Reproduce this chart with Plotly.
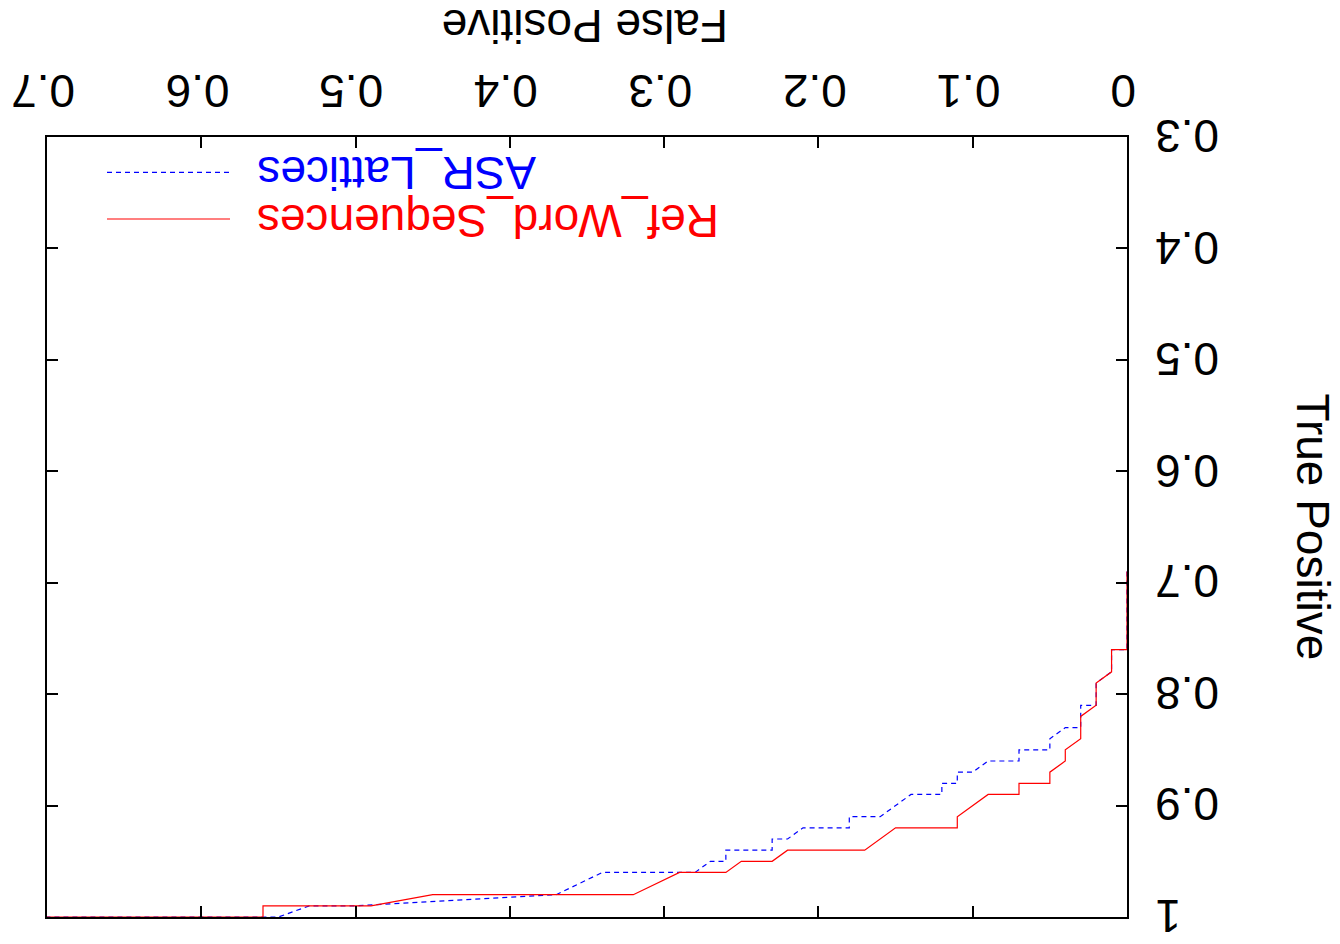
import plotly.graph_objects as go

# ---- data ----
fp_ref = [0, 0, 0.01, 0.01, 0.02, 0.02, 0.03, 0.03, 0.04, 0.04, 0.05, 0.05, 0.07, 0.07,
          0.09, 0.11, 0.11, 0.15, 0.17, 0.22, 0.23, 0.25, 0.26, 0.29, 0.32, 0.45, 0.49,
          0.56, 0.56, 0.70]
tp_ref = [0.69, 0.76, 0.76, 0.78, 0.79, 0.81, 0.82, 0.84, 0.85, 0.86, 0.87, 0.88, 0.88, 0.89,
          0.89, 0.91, 0.92, 0.92, 0.94, 0.94, 0.95, 0.95, 0.96, 0.96, 0.98, 0.98, 0.99,
          0.99, 1.0, 1.0]

fp_asr = [0, 0, 0.01, 0.01, 0.02, 0.02, 0.03, 0.03, 0.04, 0.05, 0.05, 0.07, 0.07, 0.09,
          0.10, 0.11, 0.11, 0.12, 0.12, 0.14, 0.16, 0.18, 0.18, 0.21, 0.22, 0.23, 0.23,
          0.26, 0.26, 0.27, 0.28, 0.34, 0.37, 0.50, 0.53, 0.55, 0.70]
tp_asr = [0.69, 0.76, 0.76, 0.78, 0.79, 0.81, 0.81, 0.83, 0.83, 0.84, 0.85, 0.85, 0.86, 0.86,
          0.87, 0.87, 0.88, 0.88, 0.89, 0.89, 0.91, 0.91, 0.92, 0.92, 0.93, 0.93, 0.94,
          0.94, 0.95, 0.95, 0.96, 0.96, 0.98, 0.99, 0.99, 1.0, 1.0]

x_ticks = [0, 0.1, 0.2, 0.3, 0.4, 0.5, 0.6, 0.7]
x_labels = ["0", "0.1", "0.2", "0.3", "0.4", "0.5", "0.6", "0.7"]
y_ticks = [0.3, 0.4, 0.5, 0.6, 0.7, 0.8, 0.9, 1.0]
y_labels = ["0.3", "0.4", "0.5", "0.6", "0.7", "0.8", "0.9", "1"]

series_names = ["ASR_Lattices", "Ref_Word_Sequences"]
x_title = "False Positive"
y_title = "True Positive"

# ---- layout geometry (page pixels; body margin removed via post_script) ----
W, H = 1340, 944
L = 47
T = 137
PW, PH = 1080, 780
R = W - L - PW
B = H - T - PH

def px(xpage):
    return (xpage - L) / PW

def py(ypage):
    return 1 - (ypage - T) / PH

FONT = "Liberation Sans, Arial, sans-serif"
FS = 46
BLUE = "#0000ff"
RED = "#ff0000"

fig = go.Figure()
fig.add_trace(go.Scatter(x=fp_asr, y=tp_asr, mode="lines", name=series_names[0],
                         line=dict(color=BLUE, width=1.2, dash="5px,4px")))
fig.add_trace(go.Scatter(x=fp_ref, y=tp_ref, mode="lines", name=series_names[1],
                         line=dict(color=RED, width=1.2)))

annotations = []
for v, lab in zip(x_ticks, x_labels):
    annotations.append(dict(x=v, xref="x", y=py(91), yref="paper", text=lab,
                            showarrow=False, textangle=180, xanchor="center",
                            yanchor="middle", xshift=-4,
                            font=dict(family=FONT, size=FS, color="black")))
for v, lab in zip(y_ticks, y_labels):
    annotations.append(dict(y=v, yref="y", x=px(1153), xref="paper", text=lab,
                            showarrow=False, textangle=180, xanchor="left",
                            yanchor="middle", yshift=1,
                            font=dict(family=FONT, size=FS, color="black")))
annotations.append(dict(x=px(585), y=py(26.5), xref="paper", yref="paper", text=x_title,
                        showarrow=False, textangle=180, xanchor="center", yanchor="middle",
                        font=dict(family=FONT, size=FS, color="black")))
annotations.append(dict(x=px(1312.5), y=py(527), xref="paper", yref="paper", text=y_title,
                        showarrow=False, textangle=90, xanchor="center", yanchor="middle",
                        font=dict(family=FONT, size=FS, color="black")))
annotations.append(dict(x=px(255), y=py(173), xref="paper", yref="paper", text=series_names[0],
                        showarrow=False, textangle=180, xanchor="left", yanchor="middle",
                        font=dict(family=FONT, size=FS, color=BLUE)))
annotations.append(dict(x=px(255), y=py(221), xref="paper", yref="paper", text=series_names[1],
                        showarrow=False, textangle=180, xanchor="left", yanchor="middle",
                        font=dict(family=FONT, size=FS, color=RED)))

shapes = [
    dict(type="line", xref="paper", yref="paper", x0=px(107), x1=px(230),
         y0=py(172.3), y1=py(172.3), line=dict(color=BLUE, width=1.2, dash="5px,4px")),
    dict(type="line", xref="paper", yref="paper", x0=px(107), x1=px(230),
         y0=py(219), y1=py(219), line=dict(color=RED, width=1.2)),
]

axis_common = dict(showgrid=False, zeroline=False, showline=True, linecolor="black",
                   linewidth=2, ticks="inside", ticklen=11, tickwidth=2,
                   tickcolor="black", mirror="ticks", showticklabels=False)

fig.update_layout(
    width=W, height=H,
    margin=dict(l=L, r=R, t=T, b=B, pad=0),
    paper_bgcolor="white", plot_bgcolor="white",
    showlegend=False,
    hovermode=False,
    xaxis=dict(range=[0.7, 0], tickvals=x_ticks, side="top", **axis_common),
    yaxis=dict(range=[1.0, 0.3], tickvals=y_ticks, side="right", **axis_common),
    annotations=annotations,
    shapes=shapes,
)

fig.write_html("out.html",
               config={"displayModeBar": False},
               post_script="document.body.style.margin='0';document.body.style.overflow='hidden';")
